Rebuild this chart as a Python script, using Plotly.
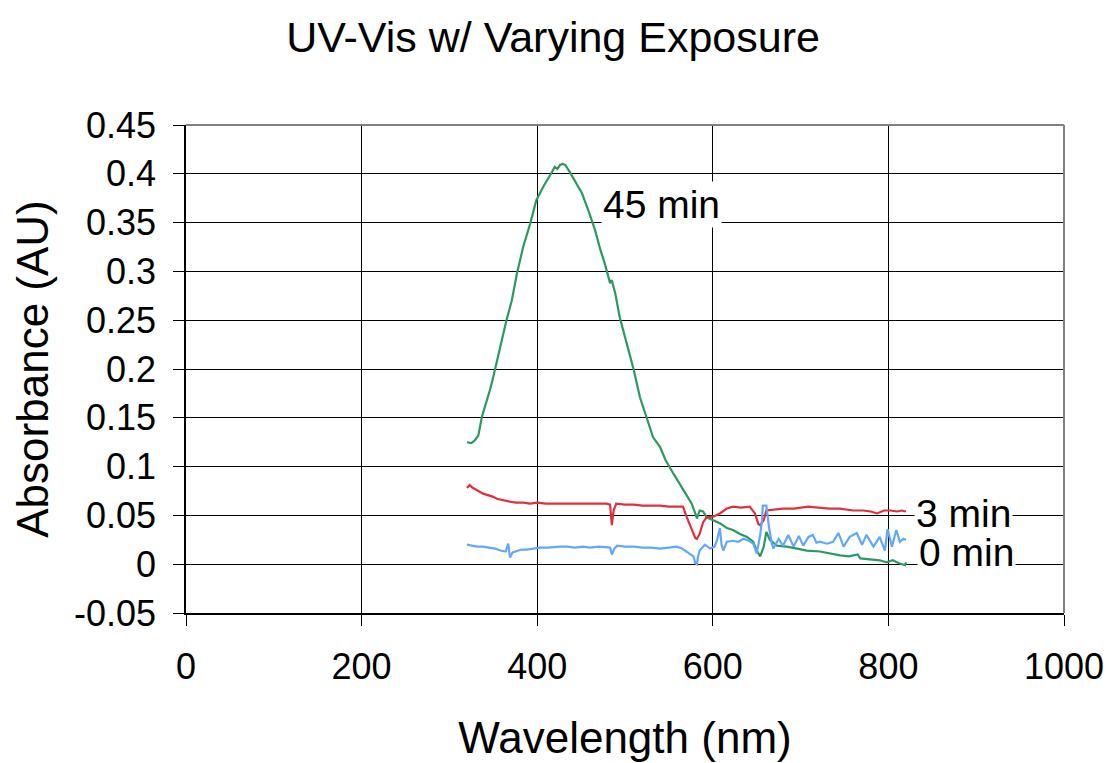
import plotly.graph_objects as go

# ---- data ----
wl_45 = [320, 325, 329, 333, 337, 342, 346, 350, 354, 358, 362, 365, 371, 377, 384, 392, 399, 407, 415, 420,
         423, 426, 429, 432, 437, 443, 451, 458, 466, 472, 477, 483, 485, 489, 494, 502, 510, 517, 525, 532,
         540, 546, 555, 566, 576, 580, 582, 585, 589, 593, 601, 608, 616, 623, 631, 639, 646, 650, 654, 658,
         661, 665, 673, 684, 696, 707, 722, 733, 745, 755, 765, 768, 778, 790, 798, 805, 812, 819, 820]
abs_45 = [0.125, 0.124, 0.127, 0.132, 0.151, 0.165, 0.178, 0.192, 0.208, 0.223, 0.238, 0.250, 0.270, 0.298,
          0.325, 0.349, 0.373, 0.387, 0.399, 0.407, 0.405, 0.409, 0.410, 0.409, 0.402, 0.393, 0.380, 0.363,
          0.342, 0.322, 0.308, 0.288, 0.291, 0.277, 0.253, 0.226, 0.199, 0.171, 0.148, 0.130, 0.120, 0.107,
          0.093, 0.076, 0.062, 0.052, 0.047, 0.055, 0.054, 0.048, 0.045, 0.042, 0.037, 0.035, 0.031, 0.028,
          0.023, 0.014, 0.008, 0.018, 0.033, 0.025, 0.019, 0.018, 0.016, 0.014, 0.013, 0.011, 0.009, 0.008,
          0.010, 0.006, 0.005, 0.004, 0.002, 0.004, 0.001, -0.001, 0.002]

wl_3 = [320, 323, 327, 331, 335, 339, 343, 347, 350, 354, 358, 363, 369, 376, 384, 392, 400, 410, 420, 430,
        440, 452, 465, 479, 483, 485, 487, 490, 500, 510, 520, 530, 540, 550, 560, 566, 570, 576, 580, 582,
        585, 589, 593, 601, 608, 616, 623, 632, 642, 648, 652, 654, 658, 661, 669, 680, 692, 700, 709, 720,
        733, 745, 752, 760, 771, 780, 787, 795, 802, 810, 815, 820]
abs_3 = [0.078, 0.081, 0.078, 0.076, 0.074, 0.072, 0.071, 0.070, 0.069, 0.067, 0.066, 0.065, 0.064, 0.063,
         0.063, 0.062, 0.063, 0.062, 0.062, 0.062, 0.062, 0.062, 0.062, 0.062, 0.061, 0.040, 0.055, 0.062,
         0.061, 0.061, 0.060, 0.060, 0.060, 0.059, 0.059, 0.059, 0.049, 0.035, 0.027, 0.026, 0.031, 0.043,
         0.048, 0.049, 0.052, 0.057, 0.059, 0.058, 0.059, 0.052, 0.041, 0.040, 0.045, 0.055, 0.056, 0.057,
         0.057, 0.058, 0.059, 0.058, 0.057, 0.057, 0.056, 0.055, 0.055, 0.054, 0.052, 0.055, 0.055, 0.054,
         0.055, 0.054]

wl_0 = [320, 325, 331, 338, 346, 352, 358, 364, 367, 369, 372, 375, 382, 388, 395, 403, 412, 420, 426, 434,
        443, 452, 460, 470, 479, 483, 485, 488, 491, 500, 510, 520, 529, 540, 550, 559, 565, 570, 578, 580,
        582, 583, 585, 591, 597, 602, 605, 608, 610, 612, 616, 623, 629, 635, 641, 646, 650, 654, 656, 657,
        661, 664, 667, 669, 675, 680, 686, 692, 698, 703, 709, 714, 718, 722, 730, 737, 743, 749, 756, 764,
        770, 775, 783, 790, 796, 799, 804, 809, 813, 817, 820]
abs_0 = [0.020, 0.019, 0.018, 0.018, 0.017, 0.016, 0.014, 0.013, 0.021, 0.007, 0.012, 0.013, 0.015, 0.015,
         0.016, 0.017, 0.017, 0.018, 0.018, 0.018, 0.017, 0.018, 0.017, 0.018, 0.017, 0.017, 0.010, 0.016,
         0.019, 0.018, 0.018, 0.017, 0.017, 0.016, 0.017, 0.018, 0.016, 0.013, 0.008, 0.001, 0.000, 0.007,
         0.014, 0.020, 0.016, 0.018, 0.025, 0.037, 0.020, 0.014, 0.023, 0.024, 0.023, 0.026, 0.024, 0.021,
         0.011, 0.030, 0.045, 0.060, 0.060, 0.038, 0.022, 0.016, 0.026, 0.019, 0.030, 0.018, 0.029, 0.019,
         0.028, 0.030, 0.022, 0.023, 0.021, 0.023, 0.032, 0.018, 0.028, 0.032, 0.020, 0.030, 0.018, 0.028,
         0.014, 0.036, 0.018, 0.035, 0.023, 0.026, 0.025]

series_names = ["45 min", "3 min", "0 min"]
x_ticks = [0, 200, 400, 600, 800, 1000]
y_ticks = [-0.05, 0, 0.05, 0.1, 0.15, 0.2, 0.25, 0.3, 0.35, 0.4, 0.45]
y_tick_text = ["-0.05", "0", "0.05", "0.1", "0.15", "0.2", "0.25", "0.3", "0.35", "0.4", "0.45"]

colors = ["#2a9a62", "#e0303c", "#62a8fa"]
FONT = "Liberation Sans, Arial, sans-serif"

fig = go.Figure()
for wl, ab, name, c in [(wl_45, abs_45, series_names[0], colors[0]),
                        (wl_3, abs_3, series_names[1], colors[1]),
                        (wl_0, abs_0, series_names[2], colors[2])]:
    fig.add_trace(go.Scatter(x=wl, y=ab, mode="lines", name=name,
                             line=dict(color=c, width=2.2), showlegend=False))

# data labels with white background (Excel style)
label_pos = [(542, 0.369), (886, 0.052), (889, 0.0123)]
for name, (lx, ly) in zip(series_names, label_pos):
    fig.add_annotation(x=lx, y=ly, text=name, showarrow=False, bgcolor="white",
                       font=dict(family=FONT, size=39, color="black"), borderpad=1)

fig.update_layout(
    width=1109, height=763,
    margin=dict(l=186, r=45, t=125, b=150, autoexpand=False),
    paper_bgcolor="white", plot_bgcolor="white",
    title=dict(text="UV-Vis w/ Varying Exposure", x=553 / 1109, xref="container", xanchor="center",
               y=1 - 37 / 763, yref="container", yanchor="middle",
               font=dict(family=FONT, size=43, color="black")),
    font=dict(family=FONT, color="black"),
)
fig.update_xaxes(range=[0, 1000], tickvals=x_ticks, ticks="outside", ticklen=11, tickcolor="black",
                 tickfont=dict(size=36), ticklabelstandoff=10, automargin=False,
                 showgrid=True, gridcolor="black", gridwidth=1,
                 zeroline=False, showline=True, linecolor="black", linewidth=1.5,
                 title=dict(text="Wavelength (nm)", font=dict(size=44), standoff=36))
fig.update_yaxes(range=[-0.05, 0.45], tickvals=y_ticks, ticktext=y_tick_text, ticks="outside", ticklen=11,
                 tickcolor="black", tickfont=dict(size=36), ticklabelstandoff=10, automargin=False,
                 showgrid=True, gridcolor="black", gridwidth=1,
                 zeroline=False, showline=True, linecolor="black", linewidth=1.5,
                 title=dict(text="Absorbance (AU)", font=dict(size=44), standoff=12))

# grey top and right border
fig.add_shape(type="line", xref="paper", yref="paper", x0=0, x1=1, y0=1, y1=1,
              line=dict(color="#808080", width=2), layer="above")
fig.add_shape(type="line", xref="paper", yref="paper", x0=1, x1=1, y0=0, y1=1,
              line=dict(color="#808080", width=2), layer="above")

fig.write_html("out.html")
